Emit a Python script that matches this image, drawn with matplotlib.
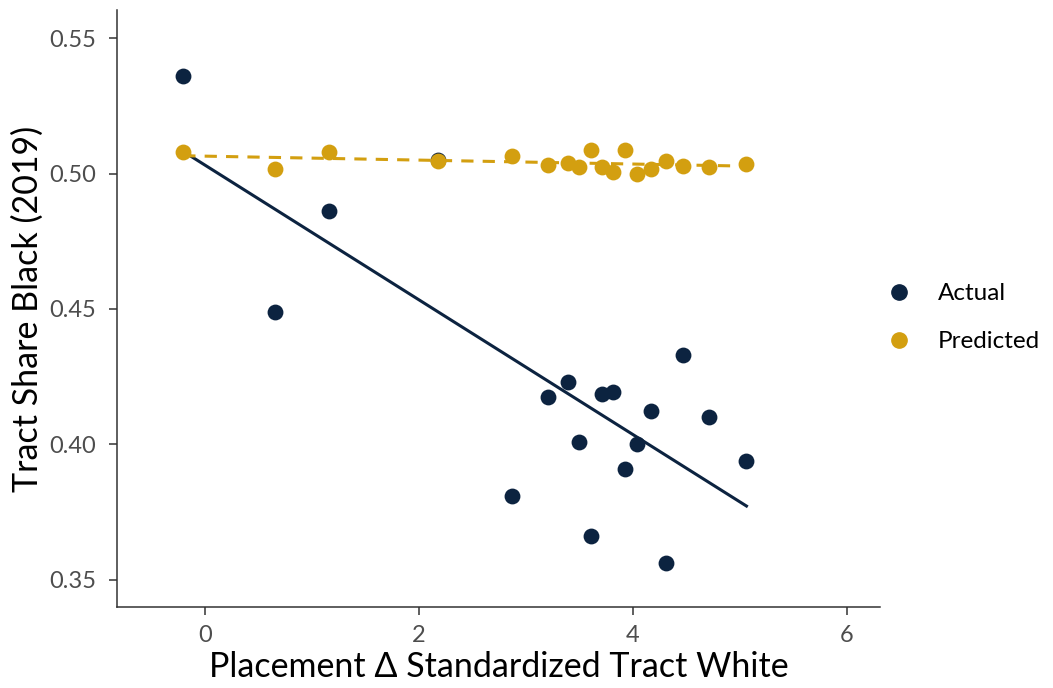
import numpy as np
from matplotlib import pyplot as plt
from matplotlib.lines import Line2D

plt.rcParams['font.family'] = ['Lato', 'DejaVu Sans']

# placement change in standardized tract white share (x)
placement_delta = [-0.20, 0.66, 1.16, 2.18, 2.87, 3.21, 3.39, 3.50, 3.61, 3.71,
                   3.81, 3.93, 4.04, 4.17, 4.31, 4.47, 4.71, 5.06]
# tract share black, actual
actual_black = [0.536, 0.449, 0.486, 0.505, 0.381, 0.4175, 0.423, 0.401, 0.366, 0.4186,
                0.4194, 0.391, 0.400, 0.4124, 0.356, 0.433, 0.410, 0.394]
# tract share black, predicted
predicted_black = [0.508, 0.5017, 0.508, 0.5046, 0.5065, 0.5031, 0.5039, 0.5024, 0.5087, 0.5024,
                   0.5005, 0.5087, 0.4998, 0.5017, 0.5046, 0.5028, 0.5024, 0.5035]

navy = '#0C2340'
gold = '#D39F10'

fig = plt.figure(figsize=(10.53, 6.88), dpi=100)
ax = fig.add_axes([0.111, 0.118, 0.725, 0.867])

x = np.array(placement_delta)
xs = np.array([x.min(), x.max()])

# fitted lines (lm, no se)
b_act = np.polyfit(x, actual_black, 1)
b_pred = np.polyfit(x, predicted_black, 1)

ax.scatter(x, actual_black, s=130, color=navy, zorder=3, linewidths=0)
ax.plot(xs, np.polyval(b_act, xs), color=navy, lw=2.2, zorder=2)
ax.scatter(x, predicted_black, s=130, color=gold, zorder=4, linewidths=0)
ax.plot(xs, np.polyval(b_pred, xs), color=gold, lw=2.2, ls=(0, (4, 3)), zorder=5)

ax.set_xlim(-0.82, 6.31)
ax.set_ylim(0.340, 0.5603)
ax.set_xticks([0, 2, 4, 6])
ax.set_yticks([0.35, 0.40, 0.45, 0.50, 0.55])
ax.set_yticklabels(['0.35', '0.40', '0.45', '0.50', '0.55'])

for side in ['top', 'right']:
    ax.spines[side].set_visible(False)
for side in ['left', 'bottom']:
    ax.spines[side].set_color('#333333')
    ax.spines[side].set_linewidth(1.1)
ax.tick_params(colors='#333333', labelcolor='#4D4D4D', labelsize=17, length=6, width=1.1)
ax.tick_params(axis='y', pad=9)
ax.tick_params(axis='x', pad=7)

ax.set_xlabel('Placement \u0394 Standardized Tract White', fontsize=24.5, color='black', labelpad=4)
ax.set_ylabel('Tract Share Black (2019)', fontsize=24.5, color='black', labelpad=4)

handles = [Line2D([], [], marker='o', ls='', color=navy, markersize=11, label='Actual'),
           Line2D([], [], marker='o', ls='', color=gold, markersize=11, label='Predicted')]
fig.legend(handles=handles, loc='center left', bbox_to_anchor=(0.81, 0.538),
           frameon=False, fontsize=17.5, handletextpad=0.6, labelspacing=1.1)

plt.savefig('out.png', dpi=100)
plt.close()
